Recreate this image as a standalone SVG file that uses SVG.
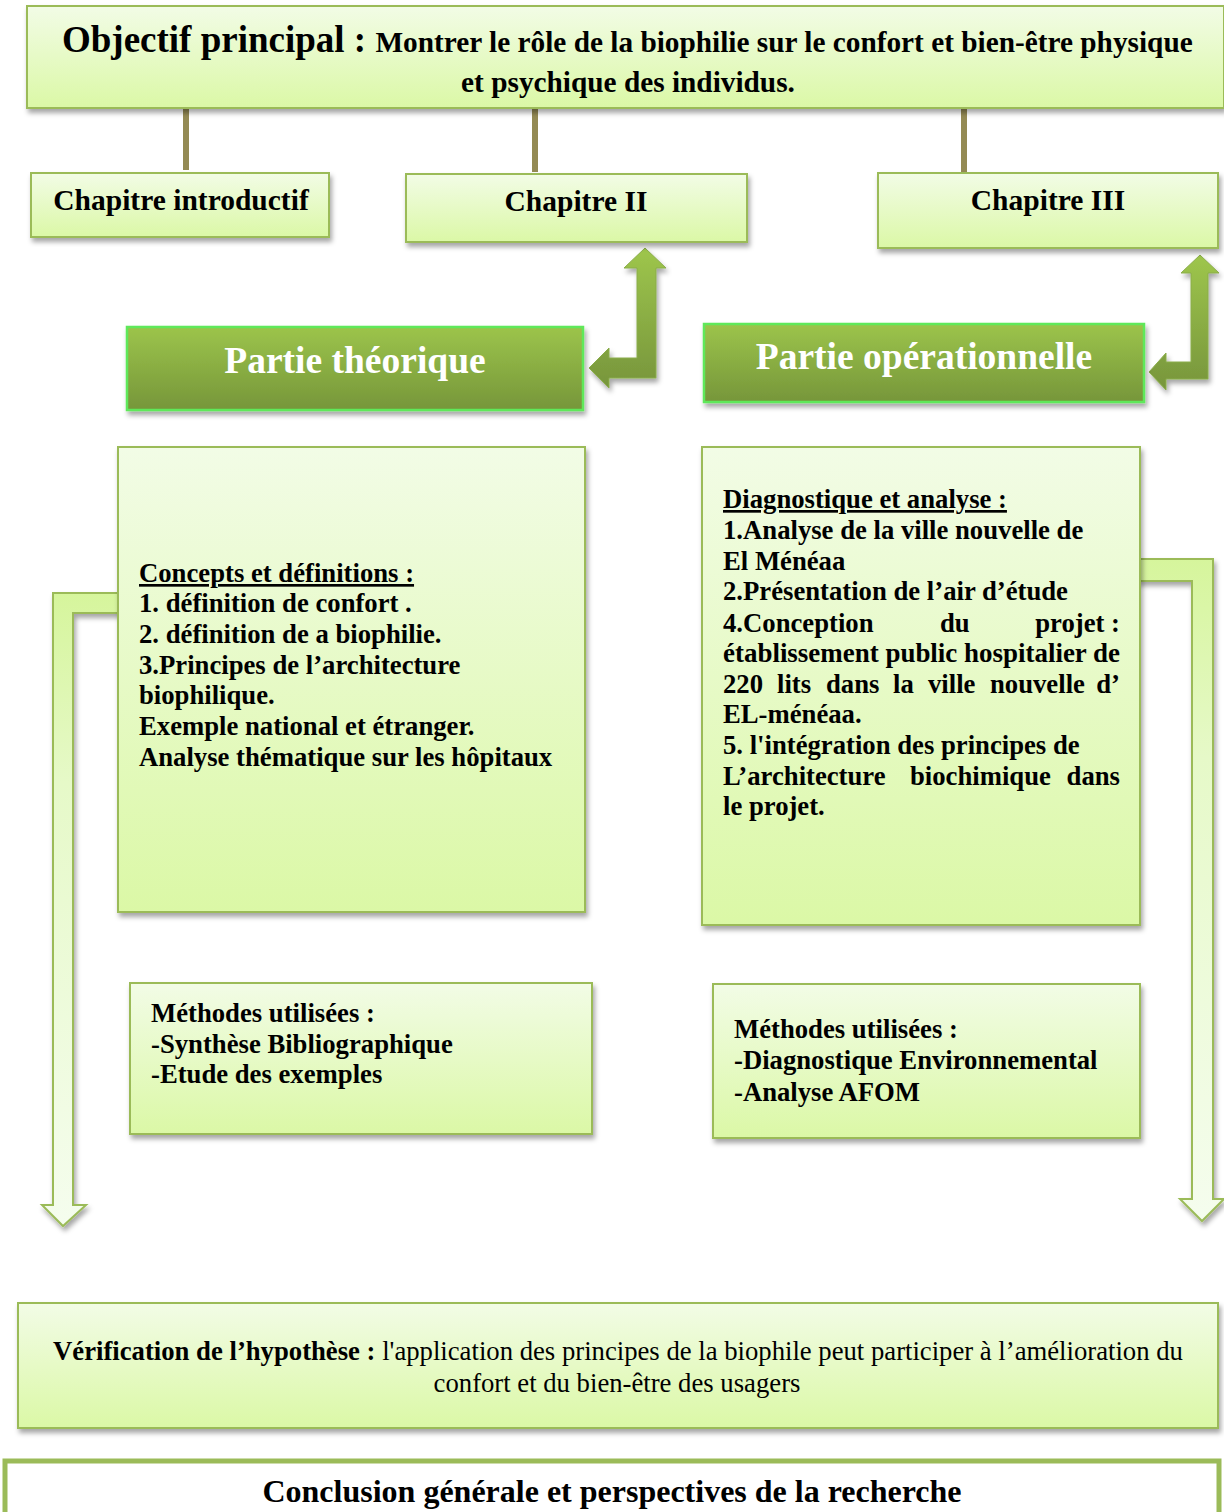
<svg xmlns="http://www.w3.org/2000/svg" width="1224" height="1512" viewBox="0 0 1224 1512">
<defs>
<linearGradient id="gLight" x1="0" y1="0" x2="0" y2="1"><stop offset="0" stop-color="#f2fce6"/><stop offset="1" stop-color="#dbf8a6"/></linearGradient>
<linearGradient id="gDark" x1="0" y1="0" x2="0" y2="1"><stop offset="0" stop-color="#9cc44b"/><stop offset="1" stop-color="#76963a"/></linearGradient>
<linearGradient id="gArrow" x1="0" y1="0" x2="0" y2="1"><stop offset="0" stop-color="#9ec64c"/><stop offset="1" stop-color="#77953c"/></linearGradient>
<linearGradient id="gPale" x1="0" y1="0" x2="0" y2="1"><stop offset="0" stop-color="#d6f59c"/><stop offset="0.3" stop-color="#e6f9c8"/><stop offset="1" stop-color="#f5fdee"/></linearGradient>
<filter id="sh" x="-5%" y="-5%" width="112%" height="120%"><feDropShadow dx="2" dy="4" stdDeviation="2.5" flood-color="#000" flood-opacity="0.35"/></filter>
</defs>
<style>
.lb{fill:url(#gLight);stroke:#9bbb59;stroke-width:2;filter:url(#sh)}
.db{fill:url(#gDark);stroke:#5ee85a;stroke-width:2.5;filter:url(#sh)}
.t{font-family:"Liberation Serif","Times New Roman",serif;font-weight:bold;fill:#000}
.tn{font-weight:normal}
.w{fill:#fff;font-size:37.5px}
.c{font-size:26.7px}
.h{font-size:29.5px}
.conn{stroke:#948a54;stroke-width:6;fill:none}
.arr{fill:url(#gArrow);stroke:#8aad4a;stroke-width:1;filter:url(#sh)}
.parr{fill:url(#gPale);stroke:#9bbb59;stroke-width:2;filter:url(#sh)}
</style>

<g id="connectors">
<line class="conn" x1="186" y1="108" x2="186" y2="170"/>
<line class="conn" x1="535" y1="108" x2="535" y2="172"/>
<line class="conn" x1="964" y1="108" x2="964" y2="174"/>
<path id="arrow-theo" class="arr" d="M645,248 L666,268 L656,268 L656,378 L609,378 L609,388 L589,368 L609,348 L609,358 L637,358 L637,268 L624,268 Z"/>
<path id="arrow-oper" class="arr" d="M1200,255 L1219,273 L1208,273 L1208,379 L1166,379 L1166,390 L1149,372 L1166,353 L1166,362 L1191,362 L1191,273 L1181,273 Z"/>
<path id="arrow-left" class="parr" d="M125,593 L125,613 L73,613 L73,1205 L86,1205 L63,1226 L42,1205 L53,1205 L53,593 Z"/>
<path id="arrow-right" class="parr" d="M1138,559 L1213,559 L1213,1199 L1224,1199 L1202,1221 L1180,1199 L1192,1199 L1192,581 L1138,581 Z"/>
</g>

<g id="objectif">
<rect class="lb" x="27" y="6" width="1197" height="102"/>
<text class="t" x="62" y="52"><tspan font-size="37">Objectif principal : </tspan><tspan font-size="29.3">Montrer le rôle de la biophilie sur le confort et bien-être physique</tspan></text>
<text class="t" x="628" y="92" font-size="29.3" text-anchor="middle">et psychique des individus.</text>
</g>

<g id="chap-intro">
<rect class="lb" x="31" y="173" width="298" height="64"/>
<text class="t h" x="181" y="210" text-anchor="middle">Chapitre introductif</text>
</g>
<g id="chap-2">
<rect class="lb" x="406" y="174" width="341" height="68"/>
<text class="t h" x="576" y="211" text-anchor="middle">Chapitre II</text>
</g>
<g id="chap-3">
<rect class="lb" x="878" y="173" width="340" height="75"/>
<text class="t h" x="1048" y="210" text-anchor="middle">Chapitre III</text>
</g>

<g id="partie-theorique">
<rect class="db" x="127" y="327" width="456" height="83"/>
<text class="t w" x="355" y="373" text-anchor="middle">Partie théorique</text>
</g>
<g id="partie-operationnelle">
<rect class="db" x="704" y="324" width="440" height="78"/>
<text class="t w" x="924" y="369" text-anchor="middle">Partie opérationnelle</text>
</g>

<g id="concepts">
<rect class="lb" x="118" y="447" width="467" height="465"/>
<g class="t c">
<text x="139" y="582" text-decoration="underline">Concepts et définitions :</text>
<text x="139" y="612">1. définition de confort .</text>
<text x="139" y="643">2. définition de a biophilie.</text>
<text x="139" y="674">3.Principes de l’architecture</text>
<text x="139" y="704">biophilique.</text>
<text x="139" y="735">Exemple national et étranger.</text>
<text x="139" y="766">Analyse thématique sur les hôpitaux</text>
</g>
</g>

<g id="diagnostique">
<rect class="lb" x="702" y="447" width="438" height="478"/>
<g class="t c">
<text x="723" y="508" text-decoration="underline">Diagnostique et analyse :</text>
<text x="723" y="539">1.Analyse de la ville nouvelle de</text>
<text x="723" y="570">El Ménéaa</text>
<text x="723" y="600">2.Présentation de l’air d’étude</text>
<text y="632"><tspan x="723">4.Conception</tspan><tspan x="940">du</tspan></text>
<text x="1120" y="632" text-anchor="end">projet :</text>
<text x="723" y="662" textLength="397" lengthAdjust="spacingAndGlyphs">établissement public hospitalier de</text>
<text y="693"><tspan x="723">220</tspan><tspan x="777">lits</tspan><tspan x="826">dans</tspan><tspan x="893">la</tspan><tspan x="928">ville</tspan><tspan x="990">nouvelle</tspan></text>
<text x="1120" y="693" text-anchor="end">d’</text>
<text x="723" y="723">EL-ménéaa.</text>
<text x="723" y="754">5. l'intégration des principes de</text>
<text y="785"><tspan x="723">L’architecture</tspan><tspan x="910">biochimique</tspan></text>
<text x="1120" y="785" text-anchor="end">dans</text>
<text x="723" y="815">le projet.</text>
</g>
</g>

<g id="methodes-theo">
<rect class="lb" x="130" y="983" width="462" height="151"/>
<g class="t c">
<text x="151" y="1022">Méthodes utilisées :</text>
<text x="151" y="1053">-Synthèse Bibliographique</text>
<text x="151" y="1083">-Etude des exemples</text>
</g>
</g>

<g id="methodes-oper">
<rect class="lb" x="713" y="984" width="427" height="154"/>
<g class="t c">
<text x="734" y="1038">Méthodes utilisées :</text>
<text x="734" y="1069">-Diagnostique Environnemental</text>
<text x="734" y="1101">-Analyse AFOM</text>
</g>
</g>

<g id="verification">
<rect class="lb" x="18" y="1303" width="1200" height="125"/>
<text class="t" x="618" y="1360" font-size="26.7" text-anchor="middle">Vérification de l’hypothèse : <tspan class="tn">l'application des principes de la biophile peut participer à l’amélioration du</tspan></text>
<text class="t tn" x="617" y="1392" font-size="26.7" text-anchor="middle">confort et du bien-être des usagers</text>
</g>

<g id="conclusion">
<rect x="5" y="1461" width="1214" height="60" fill="#fff" stroke="#9bbb59" stroke-width="5"/>
<text class="t" x="612" y="1502" font-size="32" text-anchor="middle">Conclusion générale et perspectives de la recherche</text>
</g>
</svg>
